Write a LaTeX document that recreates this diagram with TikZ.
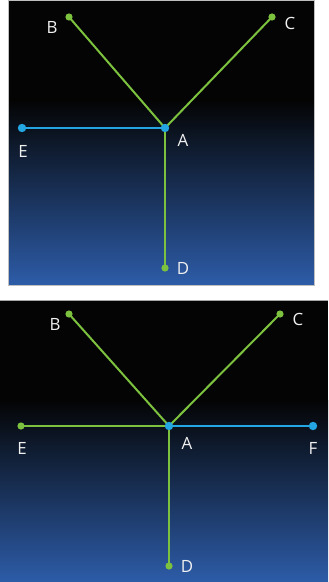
\documentclass[tikz,border=0pt]{standalone}
\usepackage{fontspec}
\setsansfont{Open Sans}
\definecolor{bgtop}{RGB}{4,4,4}
\definecolor{bgmid}{RGB}{20,38,76}
\definecolor{bgbot}{RGB}{45,92,168}
\definecolor{leafgreen}{RGB}{125,194,62}
\definecolor{hubblue}{RGB}{36,166,226}
\pgfdeclarelayer{panel}
\pgfdeclarelayer{edges}
\pgfsetlayers{panel,edges,main}
\tikzset{
  leaf/.style={circle,fill=leafgreen,inner sep=0pt,minimum size=3.6mm},
  hub/.style={leaf,fill=hubblue,minimum size=4.2mm},
  tag/.style={text=white!94!black,font=\sffamily\fontsize{24}{24}\selectfont,inner sep=0pt},
  link/.style={leafgreen,line width=1mm},
  blink/.style={link,hubblue}
}

\begin{document}
\begin{tikzpicture}[x=0.5mm,y=-0.5mm,line cap=round,line join=round]
\useasboundingbox (0,0) rectangle (328,582);
\begin{pgfonlayer}{panel}
\fill[white] (0,0) rectangle (328,582);
% upper panel
\fill[bgtop] (8,0) rectangle (314,101);
\shade[top color=bgtop,middle color=bgmid,bottom color=bgbot] (8,100) rectangle (314,285);
\draw[black!25,line width=0.3mm] (8,0) rectangle (314,285);
% lower panel
\fill[bgtop] (0,300) rectangle (328,401);
\shade[top color=bgtop,middle color=bgmid,bottom color=bgbot] (0,400) rectangle (328,582);
\draw[black!35,line width=0.4mm] (0,300) -- (328,300);
\end{pgfonlayer}
% upper tree
\node[hub] (tA) at (165,128) {};
\node[leaf] (tB) at (69,17) {};
\node[leaf] (tC) at (272,17) {};
\node[leaf] (tD) at (165,268) {};
\node[hub] (tE) at (22,128) {};
\begin{pgfonlayer}{edges}
\draw[link] (tB.center) -- (tA.center) -- (tC.center);
\draw[link] (tA.center) -- (tD.center);
\draw[blink] (tE.center) -- (tA.center);
\end{pgfonlayer}
\node[tag] at (52,27) {B};
\node[tag] at (290,23) {C};
\node[tag] at (183,140) {A};
\node[tag] at (23,151) {E};
\node[tag] at (183,268) {D};
% lower tree
\node[hub] (bA) at (169,426) {};
\node[leaf] (bB) at (69,314) {};
\node[leaf] (bC) at (280,314) {};
\node[leaf] (bD) at (169,566) {};
\node[leaf] (bE) at (21,426) {};
\node[hub] (bF) at (313,426) {};
\begin{pgfonlayer}{edges}
\draw[link] (bB.center) -- (bA.center) -- (bC.center);
\draw[link] (bE.center) -- (bA.center) -- (bD.center);
\draw[blink] (bA.center) -- (bF.center);
\end{pgfonlayer}
\node[tag] at (55,324) {B};
\node[tag] at (298,319) {C};
\node[tag] at (187,443) {A};
\node[tag] at (22,448) {E};
\node[tag] at (313,448) {F};
\node[tag] at (187,566) {D};
\end{tikzpicture}
\end{document}
